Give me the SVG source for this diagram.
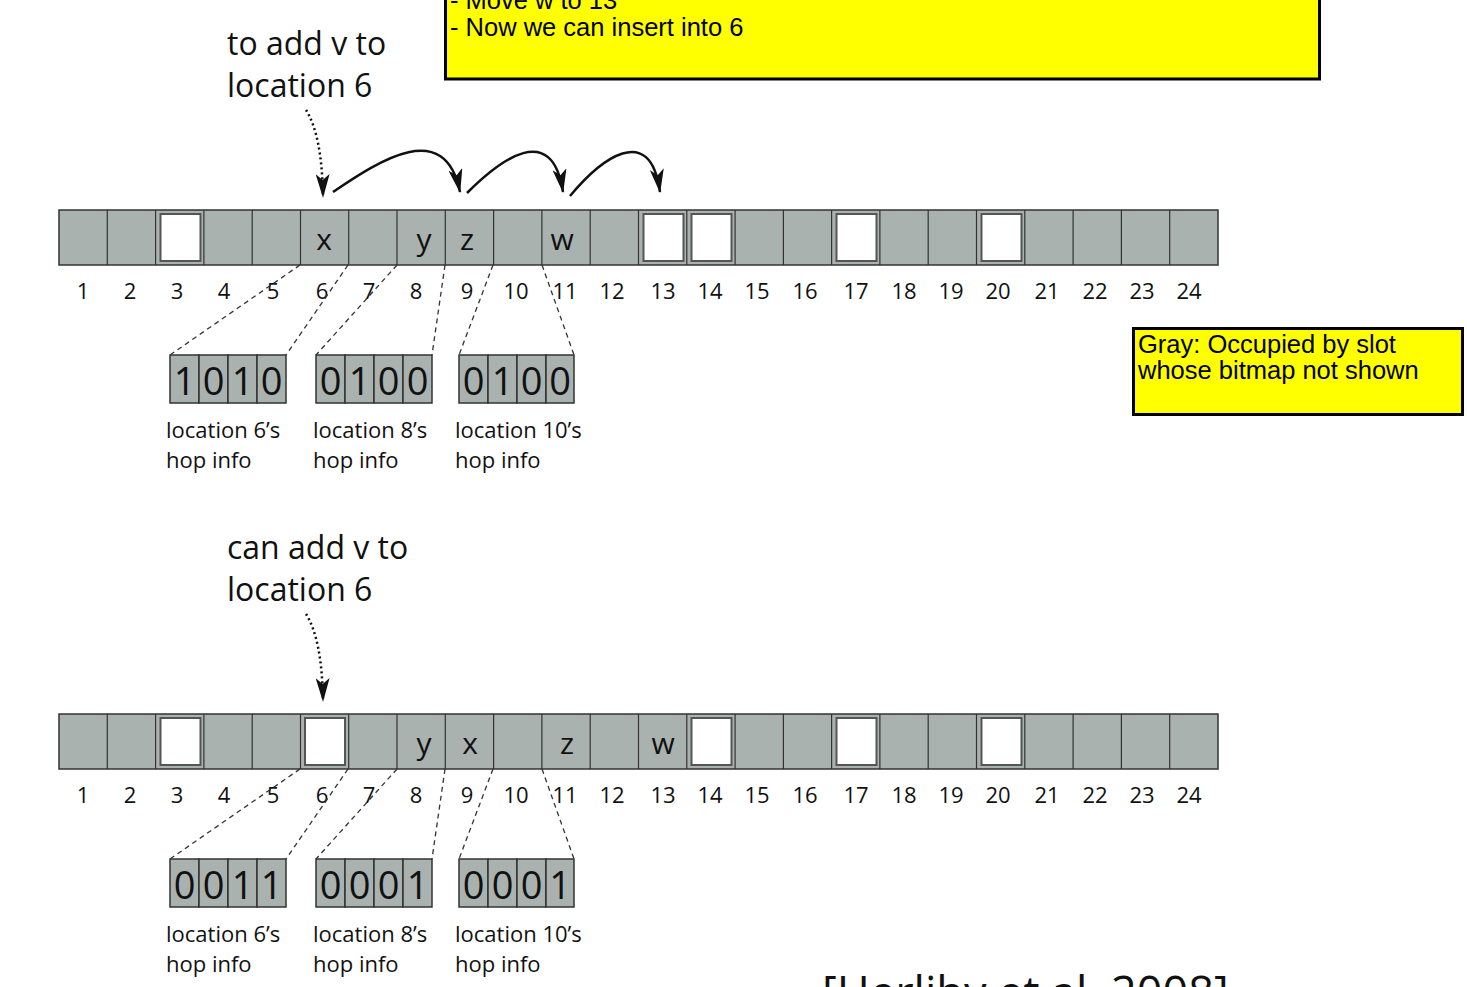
<svg xmlns="http://www.w3.org/2000/svg" width="1467" height="987" viewBox="0 0 1467 987">
<style>
.note{fill:#ffff00;stroke:#000;stroke-width:3}
.nt{font-family:"Liberation Sans",Arial,sans-serif;font-size:25.5px;fill:#000}
.hs{font-family:"Open Sans","Noto Sans",sans-serif;fill:#111}
.cap{font-size:32px}
.num{font-size:22px;text-anchor:middle}
.let{font-size:30px;text-anchor:middle}
.dig{font-size:38px;text-anchor:middle}
.lbl{font-size:22px}
.arr{fill:#aab2b0;stroke:#333;stroke-width:1.5}
.div{stroke:#333;stroke-width:1.2}
.emp{fill:#fff;stroke:#555;stroke-width:2}
.cell{fill:#aab2b0;stroke:#333;stroke-width:1.5}
.dash{fill:none;stroke:#333;stroke-width:1.3;stroke-dasharray:5,4}
.dot{fill:none;stroke:#111;stroke-width:2.5;stroke-dasharray:2,3}
.curve{fill:none;stroke:#111;stroke-width:2.5}
</style>
<defs>
<marker id="ah" viewBox="0 0 24 14" refX="23" refY="7" markerWidth="24" markerHeight="14" markerUnits="userSpaceOnUse" orient="auto">
<path d="M0,0 L6,7 L0,14 L24,7 Z" fill="#111"/>
</marker>
<g id="arrayBase">
<rect class="arr" x="59" y="0" width="1159" height="55"/>
<g class="div">
<line x1="107.3" y1="0" x2="107.3" y2="55"/><line x1="155.6" y1="0" x2="155.6" y2="55"/><line x1="203.9" y1="0" x2="203.9" y2="55"/><line x1="252.2" y1="0" x2="252.2" y2="55"/><line x1="300.5" y1="0" x2="300.5" y2="55"/><line x1="348.7" y1="0" x2="348.7" y2="55"/><line x1="397" y1="0" x2="397" y2="55"/><line x1="445.3" y1="0" x2="445.3" y2="55"/><line x1="493.6" y1="0" x2="493.6" y2="55"/><line x1="541.9" y1="0" x2="541.9" y2="55"/><line x1="590.2" y1="0" x2="590.2" y2="55"/><line x1="638.5" y1="0" x2="638.5" y2="55"/><line x1="686.8" y1="0" x2="686.8" y2="55"/><line x1="735.1" y1="0" x2="735.1" y2="55"/><line x1="783.4" y1="0" x2="783.4" y2="55"/><line x1="831.6" y1="0" x2="831.6" y2="55"/><line x1="879.9" y1="0" x2="879.9" y2="55"/><line x1="928.2" y1="0" x2="928.2" y2="55"/><line x1="976.5" y1="0" x2="976.5" y2="55"/><line x1="1024.8" y1="0" x2="1024.8" y2="55"/><line x1="1073.1" y1="0" x2="1073.1" y2="55"/><line x1="1121.4" y1="0" x2="1121.4" y2="55"/><line x1="1169.7" y1="0" x2="1169.7" y2="55"/>
</g>
<g class="hs num">
<text x="83" y="89">1</text><text x="130" y="89">2</text><text x="177" y="89">3</text><text x="224" y="89">4</text><text x="273" y="89">5</text><text x="322" y="89">6</text><text x="369" y="89">7</text><text x="416" y="89">8</text><text x="467" y="89">9</text><text x="516" y="89">10</text><text x="565" y="89">11</text><text x="612" y="89">12</text><text x="663" y="89">13</text><text x="710" y="89">14</text><text x="757" y="89">15</text><text x="805" y="89">16</text><text x="856" y="89">17</text><text x="904" y="89">18</text><text x="951" y="89">19</text><text x="998" y="89">20</text><text x="1047" y="89">21</text><text x="1095" y="89">22</text><text x="1142" y="89">23</text><text x="1189" y="89">24</text>
</g>
</g>
</defs>

<g id="note-top">
<rect class="note" x="445.5" y="-10" width="874" height="89"/>
<text class="nt" x="450" y="9">- Move w to 13</text>
<text class="nt" x="450" y="36">- Now we can insert into 6</text>
</g>

<g id="note-gray">
<rect class="note" x="1133.5" y="328.5" width="329" height="86"/>
<text class="nt" x="1138" y="353" font-size="26">Gray: Occupied by slot</text>
<text class="nt" x="1138" y="379" font-size="26">whose bitmap not shown</text>
</g>

<g id="caption-top" class="hs cap">
<text x="227" y="55">to add v to</text>
<text x="227" y="97">location 6</text>
</g>

<g id="array-top" transform="translate(0,210)">
<use href="#arrayBase"/>
<rect class="emp" x="160.5" y="4" width="40" height="47"/>
<rect class="emp" x="643.5" y="4" width="40" height="47"/>
<rect class="emp" x="691.5" y="4" width="40" height="47"/>
<rect class="emp" x="836.5" y="4" width="40" height="47"/>
<rect class="emp" x="981.5" y="4" width="40" height="47"/>
<g class="hs let">
<text x="324" y="40">x</text><text x="424" y="40">y</text><text x="467" y="40">z</text><text x="562" y="40">w</text>
</g>
</g>

<g id="hop-top-6">
<rect class="cell" x="170" y="355" width="29" height="48"/><rect class="cell" x="199" y="355" width="29" height="48"/><rect class="cell" x="228" y="355" width="29" height="48"/><rect class="cell" x="257" y="355" width="29" height="48"/>
<g class="hs dig"><text x="184.5" y="395">1</text><text x="213.5" y="395">0</text><text x="242.5" y="395">1</text><text x="271.5" y="395">0</text></g>
<g class="hs lbl"><text x="166" y="438">location 6’s</text><text x="166" y="468">hop info</text></g>
</g>
<g id="hop-top-8">
<rect class="cell" x="316" y="355" width="29" height="48"/><rect class="cell" x="345" y="355" width="29" height="48"/><rect class="cell" x="374" y="355" width="29" height="48"/><rect class="cell" x="403" y="355" width="29" height="48"/>
<g class="hs dig"><text x="330.5" y="395">0</text><text x="359.5" y="395">1</text><text x="388.5" y="395">0</text><text x="417.5" y="395">0</text></g>
<g class="hs lbl"><text x="313" y="438">location 8’s</text><text x="313" y="468">hop info</text></g>
</g>
<g id="hop-top-10">
<rect class="cell" x="459" y="355" width="29" height="48"/><rect class="cell" x="488" y="355" width="29" height="48"/><rect class="cell" x="517" y="355" width="29" height="48"/><rect class="cell" x="546" y="355" width="28" height="48"/>
<g class="hs dig"><text x="473.5" y="395">0</text><text x="502.5" y="395">1</text><text x="531.5" y="395">0</text><text x="560" y="395">0</text></g>
<g class="hs lbl"><text x="455" y="438">location 10’s</text><text x="455" y="468">hop info</text></g>
</g>

<g id="caption-bottom" class="hs cap">
<text x="227" y="559">can add v to</text>
<text x="227" y="601">location 6</text>
</g>

<g id="array-bottom" transform="translate(0,714)">
<use href="#arrayBase"/>
<rect class="emp" x="160.5" y="4" width="40" height="47"/>
<rect class="emp" x="305" y="4" width="40" height="47"/>
<rect class="emp" x="691.5" y="4" width="40" height="47"/>
<rect class="emp" x="836.5" y="4" width="40" height="47"/>
<rect class="emp" x="981.5" y="4" width="40" height="47"/>
<g class="hs let">
<text x="424" y="40">y</text><text x="470" y="40">x</text><text x="567" y="40">z</text><text x="663" y="40">w</text>
</g>
</g>

<g id="hop-bottom-6">
<rect class="cell" x="170" y="859" width="29" height="48"/><rect class="cell" x="199" y="859" width="29" height="48"/><rect class="cell" x="228" y="859" width="29" height="48"/><rect class="cell" x="257" y="859" width="29" height="48"/>
<g class="hs dig"><text x="184.5" y="899">0</text><text x="213.5" y="899">0</text><text x="242.5" y="899">1</text><text x="271.5" y="899">1</text></g>
<g class="hs lbl"><text x="166" y="942">location 6’s</text><text x="166" y="972">hop info</text></g>
</g>
<g id="hop-bottom-8">
<rect class="cell" x="316" y="859" width="29" height="48"/><rect class="cell" x="345" y="859" width="29" height="48"/><rect class="cell" x="374" y="859" width="29" height="48"/><rect class="cell" x="403" y="859" width="29" height="48"/>
<g class="hs dig"><text x="330.5" y="899">0</text><text x="359.5" y="899">0</text><text x="388.5" y="899">0</text><text x="417.5" y="899">1</text></g>
<g class="hs lbl"><text x="313" y="942">location 8’s</text><text x="313" y="972">hop info</text></g>
</g>
<g id="hop-bottom-10">
<rect class="cell" x="459" y="859" width="29" height="48"/><rect class="cell" x="488" y="859" width="29" height="48"/><rect class="cell" x="517" y="859" width="29" height="48"/><rect class="cell" x="546" y="859" width="28" height="48"/>
<g class="hs dig"><text x="473.5" y="899">0</text><text x="502.5" y="899">0</text><text x="531.5" y="899">0</text><text x="560" y="899">1</text></g>
<g class="hs lbl"><text x="455" y="942">location 10’s</text><text x="455" y="972">hop info</text></g>
</g>

<g id="citation">
<text class="hs" x="822" y="1009" font-size="45">[Herlihy et al. 2008]</text>
</g>

<g id="connectors">
<path class="dot" d="M306,110 Q322,135 323,197" marker-end="url(#ah)"/>
<path class="curve" d="M333,192 C380,160 445,118 460,192" marker-end="url(#ah)"/>
<path class="curve" d="M467,193 C500,160 552,120 563,192" marker-end="url(#ah)"/>
<path class="curve" d="M570,196 C600,160 650,120 660,192" marker-end="url(#ah)"/>
<path class="dot" d="M306,614 Q322,639 323,701" marker-end="url(#ah)"/>
<path class="dash" d="M300,265 L170,355 M348,265 L286,355 M397,265 L316,355 M445,265 L432,355 M493,265 L459,355 M542,265 L574,355"/>
<path class="dash" d="M300,769 L170,859 M348,769 L286,859 M397,769 L316,859 M445,769 L432,859 M493,769 L459,859 M542,769 L574,859"/>
</g>
</svg>
